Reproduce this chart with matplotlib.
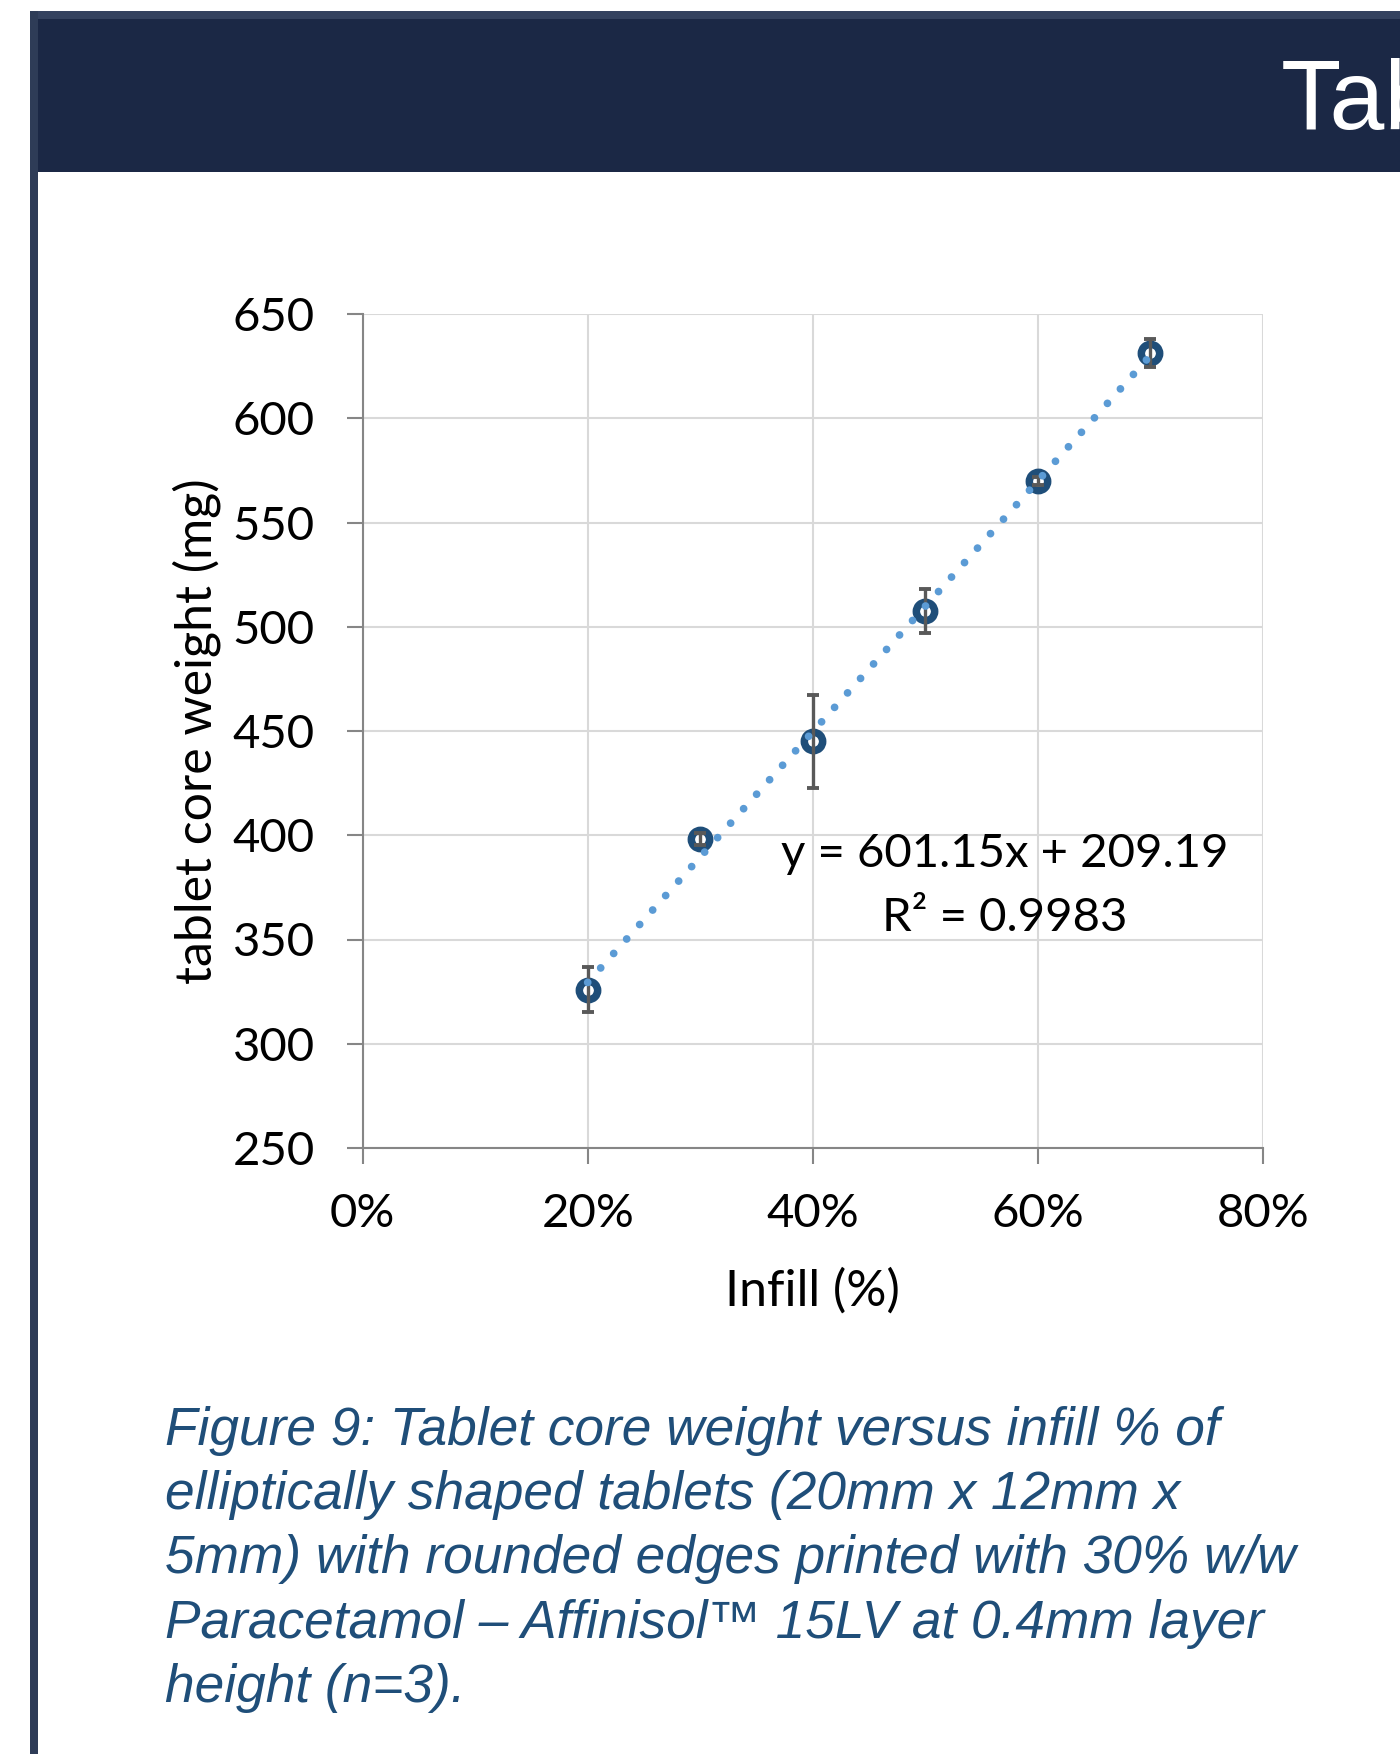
import matplotlib
matplotlib.use("Agg")
import matplotlib.pyplot as plt
from matplotlib.patches import Rectangle
import numpy as np

# ---- data ----
infill = [0.2, 0.3, 0.4, 0.5, 0.6, 0.7]
weight = [326.0, 398.2, 445.0, 507.5, 570.0, 631.5]
weight_err = [10.6, 2.7, 22.2, 10.7, 2.0, 6.7]
trend_slope = 601.15
trend_intercept = 209.19
r_squared = 0.9983
x_ticks = [0.0, 0.2, 0.4, 0.6, 0.8]
x_tick_labels = ["0%", "20%", "40%", "60%", "80%"]
y_ticks = [250, 300, 350, 400, 450, 500, 550, 600, 650]
caption_lines = [
    "Figure 9: Tablet core weight versus infill % of",
    "elliptically shaped tablets (20mm x 12mm x",
    "5mm) with rounded edges printed with 30% w/w",
    "Paracetamol \u2013 Affinisol\u2122 15LV at 0.4mm layer",
    "height (n=3).",
]
header_text = "Tablet"

W, H = 1400, 1754
fig = plt.figure(figsize=(W / 100, H / 100), dpi=100)
fig.patch.set_facecolor("white")


def fx(px):
    return px / W


def fy(py):
    return 1 - py / H


# page decorations: header banner and left border
fig.patches.append(Rectangle((fx(30), fy(172)), fx(W - 30), (172 - 11) / H,
                             transform=fig.transFigure, facecolor="#1B2845",
                             edgecolor="none", zorder=0))
fig.patches.append(Rectangle((fx(30), fy(19)), fx(W - 30), 8 / H,
                             transform=fig.transFigure, facecolor="#34425F",
                             edgecolor="none", zorder=0))
fig.patches.append(Rectangle((fx(30), 0), fx(8), fy(11),
                             transform=fig.transFigure, facecolor="#2E3C57",
                             edgecolor="none", zorder=0))
fig.text(fx(1281), fy(129), header_text, color="white", fontsize=71,
         family="Liberation Sans", va="baseline", ha="left")

# ---- axes ----
ax_left, ax_right, ax_top, ax_bottom = 362.7, 1262.7, 314.0, 1148.0
ax = fig.add_axes([fx(ax_left), fy(ax_bottom), (ax_right - ax_left) / W,
                   (ax_bottom - ax_top) / H])
ax.set_xlim(0, 0.8)
ax.set_ylim(250, 650)

ax.set_xticks(x_ticks)
ax.set_xticklabels(x_tick_labels)
ax.set_yticks(y_ticks)

for s in ["top", "right"]:
    ax.spines[s].set_visible(False)
for s in ["left", "bottom"]:
    ax.spines[s].set_color("#868686")
    ax.spines[s].set_linewidth(1.5)

ax.grid(True, color="#D9D9D9", linewidth=1.5)
ax.set_axisbelow(True)

ax.tick_params(axis="both", direction="out", length=11.5, width=1.5,
               color="#868686", labelcolor="black")
ax.tick_params(axis="y", pad=23, labelsize=34)
ax.tick_params(axis="x", pad=21, labelsize=34)
for lab in ax.get_xticklabels() + ax.get_yticklabels():
    lab.set_family("Lato")

# data markers
ax.plot(infill, weight, linestyle="none", marker="o", markersize=13.2,
        markerfacecolor="none", markeredgecolor="#1F4E79",
        markeredgewidth=5.4, zorder=3, clip_on=False)
# error bars
ax.errorbar(infill, weight, yerr=weight_err, fmt="none", ecolor="#595959",
            elinewidth=2.4, capsize=4.4, capthick=2.8, zorder=4)
# linear trendline
tx = np.array([min(infill), max(infill)])
ty = trend_slope * tx + trend_intercept
ax.plot(tx, ty, color="#5B9BD5", linewidth=5.6,
        linestyle=(0, (0.001, 2.5)), dash_capstyle="round", zorder=5)

# trendline equation
eq_x = (1005 - ax_left) / (ax_right - ax_left)
ax.text(eq_x, (ax_bottom - 867) / (ax_bottom - ax_top),
        f"y = {trend_slope:.2f}x + {trend_intercept:.2f}",
        transform=ax.transAxes, ha="center", va="baseline", fontsize=34,
        family="Lato", color="black", zorder=6)
ax.text(eq_x, (ax_bottom - 931) / (ax_bottom - ax_top),
        f"R\u00b2 = {r_squared:.4f}",
        transform=ax.transAxes, ha="center", va="baseline", fontsize=34,
        family="Lato", color="black", zorder=6)

# axis titles
fig.text(fx(812), fy(1306), "Infill (%)", ha="center", va="baseline",
         fontsize=36, family="Lato", color="black")
fig.text(fx(197), fy(731), "tablet core weight (mg)", ha="center",
         va="center", rotation=90, fontsize=36, family="Lato", color="black")

# caption
for i, line in enumerate(caption_lines):
    fig.text(fx(165), fy(1445 + i * 64.2), line, ha="left", va="baseline",
             fontsize=38.3, family="Liberation Sans", style="italic",
             color="#1F4E79")

fig.savefig("out.png", dpi=100)
